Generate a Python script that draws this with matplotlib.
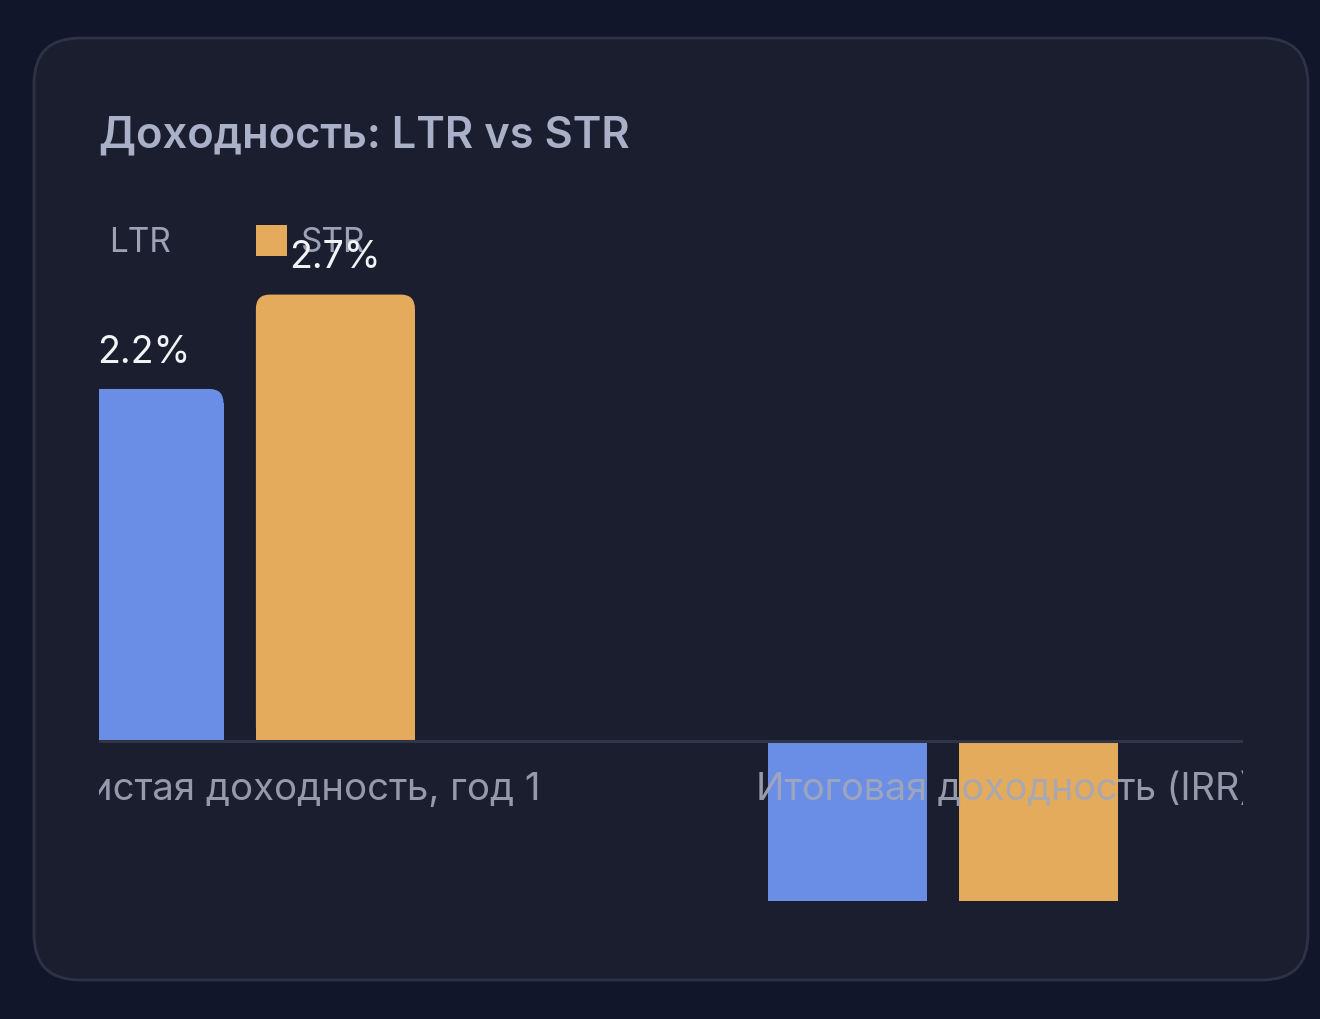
import numpy as np
import matplotlib.pyplot as plt
from matplotlib.patches import FancyBboxPatch, Rectangle
from matplotlib.transforms import IdentityTransform

plt.rcParams['font.family'] = ['Inter', 'DejaVu Sans']

# data
categories = ['Чистая доходность, год 1', 'Итоговая доходность (IRR)']
series = ['LTR', 'STR']
ltr_values = [2.2, -1.0]
str_values = [2.79, -1.0]
value_labels = [['2.2%', ''], ['2.7%', '']]
colors = ['#6a8ee6', '#e4ab5c']

W, H = 1320, 1019
fig = plt.figure(figsize=(W / 100, H / 100), dpi=100)
fig.patch.set_facecolor('#12162a')

# card
card = FancyBboxPatch((34, H - 980), 1274, 942,
                      boxstyle="round,pad=0,rounding_size=46",
                      transform=IdentityTransform(),
                      facecolor='#1b1e2f', edgecolor='#2d3245', linewidth=2,
                      zorder=-5)
fig.add_artist(card)

fig.text(99 / W, 1 - 136 / H, 'Доходность: LTR vs STR', fontsize=31.3,
         fontweight='semibold', color='#a9b0c8', va='center', ha='left')

ax = fig.add_axes([99 / W, 118 / H, (1243 - 99) / W, (901 - 200) / H])
ax.set_zorder(2)
ax.set_facecolor('none')
for s in ax.spines.values():
    s.set_visible(False)
ax.set_xticks([])
ax.set_yticks([])
ax.set_xlim(-0.2, 1.426)
ax.set_ylim(-1.0, 3.381)

x = np.arange(len(categories))
width = 0.226
offsets = [-0.136, 0.136]
rx, ry = 0.02, 0.088

for i, (vals, col) in enumerate(zip([ltr_values, str_values], colors)):
    bars = ax.bar(x + offsets[i], vals, width, color=col, linewidth=0, zorder=2)
    for j, b in enumerate(bars):
        h = b.get_height()
        if h > 0:
            # rounded top corners
            b.set_height(h - ry)
            ax.add_patch(FancyBboxPatch((b.get_x(), 0), b.get_width(), h,
                                        boxstyle=f"round,pad=0,rounding_size={rx}",
                                        mutation_aspect=ry / rx,
                                        facecolor=col, linewidth=0, zorder=2))
            ax.text(b.get_x() + b.get_width() / 2, h + 0.115, value_labels[i][j],
                    ha='center', va='bottom', fontsize=27, color='#f2f3f7',
                    zorder=5, clip_on=True)

ax.axhline(0, color='#2f3547', linewidth=2.2, zorder=3)

# category labels
ax.text(x[0] + 0.427, -0.305, categories[0], ha='right', va='center',
        fontsize=27.6, color='#a3a8ba', alpha=0.9, zorder=4, clip_on=True)
ax.text(x[1] - 0.2658, -0.305, categories[1], ha='left', va='center',
        fontsize=27.2, color='#a3a8ba', alpha=0.9, zorder=4, clip_on=True)

# legend
leg_x = [-0.2495, 0.0234]
for k, name in enumerate(series):
    ax.add_patch(Rectangle((leg_x[k], 3.031), 0.044, 0.194, facecolor=colors[k],
                           linewidth=0, zorder=3, clip_on=True))
    ax.text(leg_x[k] + 0.064, 3.11, name, ha='left', va='center', fontsize=24,
            color='#9ca2b6', zorder=3, clip_on=True)

fig.savefig('out.png', dpi=100, facecolor=fig.get_facecolor())
